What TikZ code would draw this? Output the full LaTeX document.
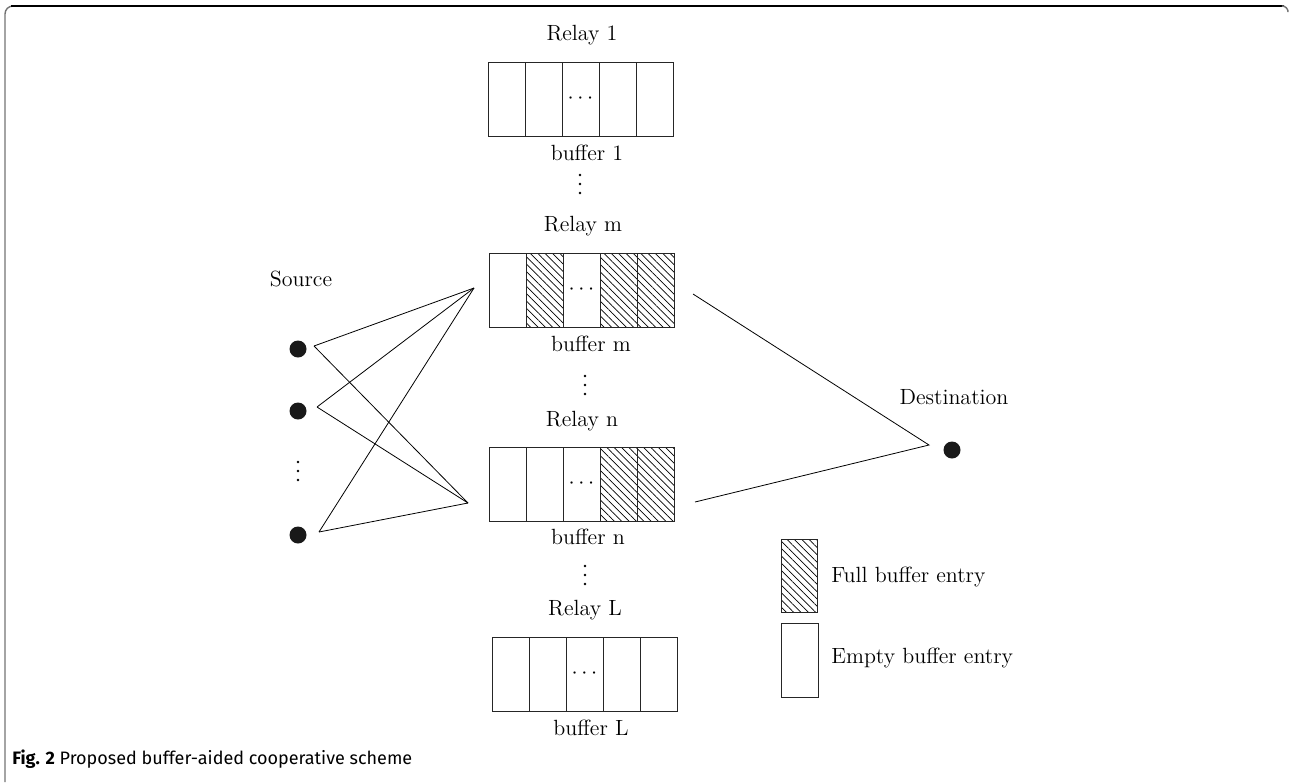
\documentclass[tikz,border=0pt]{standalone}
\usepackage{fontspec}
\newfontfamily\capfont{Fira Sans}
\usetikzlibrary{patterns.meta}
\tikzset{
  lbl/.style={font=\fontsize{11}{13}\selectfont, inner sep=0pt},
  bufline/.style={draw=black!85, line width=0.45pt},
  link/.style={draw=black, line width=0.4pt},
  dot/.style={circle, fill=black!90, inner sep=0pt, minimum size=8.5pt},
  smalldot/.style={circle, fill=black, inner sep=0pt, minimum size=1.35pt},
  hatch/.style={pattern={Lines[angle=-45, distance=2.6pt, line width=0.35pt]}},
}
\newcommand\mybuffer[3]{% left x, top y, name
  \draw[bufline] (#1,#2) rectangle ++(185,74);
  \foreach \i in {1,...,4} \draw[bufline] ({#1+37*\i},#2) -- ++(0,74);
  \node[lbl] (#3) at ({#1+92.5},{#2+37}) {$\cdots$};
}
\newcommand\myhatch[3]{% left x, top y, cell index
  \fill[hatch] ({#1+37*(#3-1)},#2) rectangle ++(37,74);
}
\newcommand\myvdots[3]{% centre x, centre y, name
  \node[smalldot] (#3a) at (#1,{#2-9}) {};
  \node[smalldot] (#3b) at (#1,#2) {};
  \node[smalldot] (#3c) at (#1,{#2+9}) {};
}
\begin{document}
\begin{tikzpicture}[x=0.5pt,y=-0.5pt]
\useasboundingbox (0,0) rectangle (1289,782);
% frame
\draw[black!55, line width=0.7pt, rounded corners=4] (5,782) -- (5,6) -- (12,6);
\draw[black, line width=0.7pt] (11,6) -- (1284,6);
\draw[black!55, line width=0.7pt, rounded corners=3] (1284,6) -- (1288,6) -- (1288,10);
% relay 1
\node[lbl] (r1) at (582,35) {Relay 1};
\mybuffer{488}{62}{b1}
\node[lbl] (bl1) at (587,153) {buffer 1};
\myvdots{580}{184}{v1}
% relay m
\node[lbl] (rm) at (583,226) {Relay m};
\myhatch{489}{253}{2}
\myhatch{489}{253}{4}
\myhatch{489}{253}{5}
\mybuffer{489}{253}{bm}
\node[lbl] (blm) at (591,344) {buffer m};
\myvdots{585}{385}{v2}
% relay n
\node[lbl] (rn) at (582,421) {Relay n};
\myhatch{489}{447}{4}
\myhatch{489}{447}{5}
\mybuffer{489}{447}{bn}
\node[lbl] (bln) at (588,537) {buffer n};
\myvdots{585}{575}{v3}
% relay L
\node[lbl] (rL) at (585,610) {Relay L};
\mybuffer{492}{637}{bL}
\node[lbl] (blL) at (591,728) {buffer L};
% source
\node[lbl] (src) at (301,279) {Source};
\node[dot] (s1) at (298,349) {};
\node[dot] (s2) at (298,411) {};
\myvdots{298}{471}{vs}
\node[dot] (s3) at (298,535) {};
\coordinate (s1e) at (314,346);
\coordinate (s2e) at (317,407);
\coordinate (s3e) at (319,532);
\coordinate (jm) at (474,288);
\coordinate (jn) at (468,503);
\foreach \s in {s1e,s2e,s3e} {
  \draw[link] (\s) -- (jm);
  \draw[link] (\s) -- (jn);
}
% destination
\node[lbl] (dst) at (954,397) {Destination};
\node[dot] (d) at (952,450) {};
\coordinate (dj) at (929,445);
\coordinate (bme) at (693,294);
\coordinate (bne) at (695,502);
\draw[link] (bme) -- (dj) -- (bne);
% legend
\fill[hatch] (781,539) rectangle (817,612);
\node[bufline, minimum width=18pt, minimum height=36.5pt, inner sep=0pt] (lf) at (799,575.5) {};
\node[bufline, minimum width=18.5pt, minimum height=37pt, inner sep=0pt] (le) at (799.5,660) {};
\node[lbl, anchor=west] (lft) at (831,577) {Full buffer entry};
\node[lbl, anchor=west] (let) at (831,658) {Empty buffer entry};
% caption
\node[anchor=base west, inner sep=0pt, font=\capfont\fontsize{9}{11}\selectfont] (cap) at (12,764) {\textbf{Fig. 2} Proposed buffer-aided cooperative scheme};
\end{tikzpicture}
\end{document}
